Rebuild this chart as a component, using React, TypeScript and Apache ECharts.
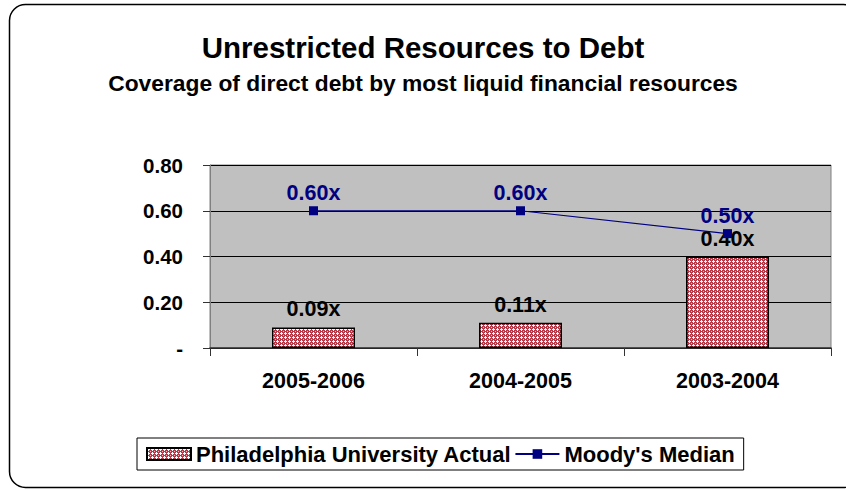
import React, { useEffect, useRef } from "react";
import * as echarts from "echarts";

const categories = ["2005-2006", "2004-2005", "2003-2004"];
const actualValues = [0.09, 0.11, 0.4];
const medianValues = [0.6, 0.6, 0.5];
const yTicks = { min: 0, max: 0.8, interval: 0.2 };

function makePattern(): string {
  const c = document.createElement("canvas");
  c.width = 4;
  c.height = 4;
  const ctx = c.getContext("2d")!;
  ctx.fillStyle = "#b83848";
  ctx.fillRect(0, 0, 4, 4);
  ctx.fillStyle = "#ffffff";
  ctx.fillRect(1, 0, 1, 3);
  ctx.fillRect(0, 1, 3, 1);
  ctx.fillStyle = "#e8b8c0";
  ctx.fillRect(3, 3, 1, 1);
  return c.toDataURL();
}

export default function App() {
  const ref = useRef<HTMLDivElement>(null);
  useEffect(() => {
    if (!ref.current) return;
    const chart = echarts.init(ref.current, undefined, { renderer: "svg" });
    const pattern = { image: makePattern(), repeat: "repeat" as const };
    const font = "Arial, 'Liberation Sans', sans-serif";
    chart.setOption({
      animation: false,
      backgroundColor: "#ffffff",
      title: {
        text: "Unrestricted Resources to Debt",
        subtext: "Coverage of direct debt by most liquid financial resources",
        left: 418,
        textAlign: "center",
        top: 27,
        itemGap: 9,
        textStyle: { fontFamily: font, fontSize: 29.5, fontWeight: "bold", color: "#000" },
        subtextStyle: { fontFamily: font, fontSize: 22.8, fontWeight: "bold", color: "#000" },
      },
      graphic: [
        {
          type: "rect",
          shape: { x: 9.5, y: 4.5, width: 850, height: 483, r: 16 },
          style: { fill: "none", stroke: "#000", lineWidth: 1.5 },
          z: 10,
          silent: true,
        },
      ],
      legend: {
        left: 137,
        top: 438,
        orient: "horizontal",
        padding: [5, 9, 5, 9],
        borderColor: "#000",
        borderWidth: 1,
        itemGap: 3,
        itemWidth: 44,
        itemHeight: 12,
        textStyle: { fontFamily: font, fontSize: 22, fontWeight: "bold", color: "#000" },
        data: [
          { name: "Philadelphia University Actual", icon: "rect" },
          { name: "Moody's Median" },
        ],
      },
      grid: {
        left: 210,
        top: 165,
        right: 15,
        bottom: 142,
        show: true,
        backgroundColor: "#c0c0c0",
        borderColor: "#808080",
        borderWidth: 1,
      },
      xAxis: {
        type: "category",
        data: categories,
        axisLine: { lineStyle: { color: "#333", width: 1.5 } },
        axisTick: { show: true, length: 8, lineStyle: { color: "#333" } },
        axisLabel: { margin: 22, fontFamily: font, fontSize: 21.5, fontWeight: "bold", color: "#000" },
      },
      yAxis: {
        type: "value",
        min: yTicks.min,
        max: yTicks.max,
        interval: yTicks.interval,
        axisLine: { show: true, lineStyle: { color: "#808080" } },
        axisTick: { show: true, length: 7, lineStyle: { color: "#333" } },
        splitLine: { lineStyle: { color: "#000", width: 1 } },
        axisLabel: {
          margin: 27,
          fontFamily: font,
          fontSize: 20.5,
          fontWeight: "bold",
          color: "#000",
          formatter: (v: number) => (v === 0 ? "-" : v.toFixed(2)),
        },
      },
      series: [
        {
          name: "Philadelphia University Actual",
          type: "bar",
          data: actualValues,
          barWidth: 83,
          itemStyle: { color: pattern, borderColor: "#000", borderWidth: 1.5 },
          label: {
            show: true,
            position: "top",
            distance: 7,
            fontFamily: font,
            fontSize: 21.5,
            fontWeight: "bold",
            color: "#000",
            formatter: (p: any) => p.value.toFixed(2) + "x",
          },
        },
        {
          name: "Moody's Median",
          type: "line",
          data: medianValues,
          symbol: "rect",
          symbolSize: 9,
          lineStyle: { color: "#000080", width: 1.2 },
          itemStyle: { color: "#000080" },
          label: {
            show: true,
            position: "top",
            distance: 2,
            fontFamily: font,
            fontSize: 21.5,
            fontWeight: "bold",
            color: "#000080",
            formatter: (p: any) => p.value.toFixed(2) + "x",
          },
          z: 5,
        },
      ],
    });
    return () => chart.dispose();
  }, []);
  return (
    <div
      ref={ref}
      style={{ position: "fixed", left: 0, top: 0, width: 846, height: 490 }}
    />
  );
}
